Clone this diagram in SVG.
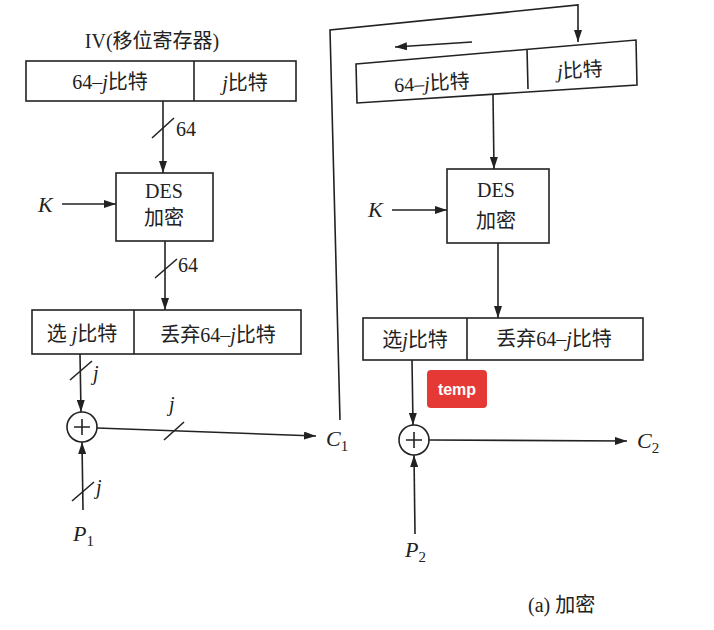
<svg xmlns="http://www.w3.org/2000/svg" width="714" height="630" viewBox="0 0 714 630">
<defs>
<marker id="ah" viewBox="0 0 12 8" refX="12" refY="4" markerWidth="12" markerHeight="8" markerUnits="userSpaceOnUse" orient="auto"><path d="M0,0 L12,4 L0,8 Z" fill="#222"/></marker>
</defs>
<style>
.b{fill:#fff;stroke:#222;stroke-width:1.6}
.l{fill:none;stroke:#222;stroke-width:1.6}
.a{fill:none;stroke:#222;stroke-width:1.6;marker-end:url(#ah)}
.t{font-family:"Liberation Serif","Noto Sans CJK SC",serif;font-size:20px;fill:#222}
.c{text-anchor:middle}
.i{font-style:italic}
.s{font-size:15px;font-style:normal}
.big{font-size:22px}
</style>
<rect width="714" height="630" fill="#fff"/>
<text class="t c" x="152" y="48">IV(移位寄存器)</text>
<g id="reg1">
<rect class="b" x="26" y="61" width="270" height="40"/>
<line class="l" x1="194" y1="61" x2="194" y2="101"/>
<text class="t c" x="110" y="89">64–<tspan class="i">j</tspan>比特</text>
<text class="t c" x="245" y="90"><tspan class="i">j</tspan>比特</text>
</g>
<g id="des1">
<rect class="b" x="116" y="173" width="97" height="68"/>
<text class="t c" x="164" y="198">DES</text>
<text class="t c" x="164" y="225">加密</text>
</g>
<g id="sel1">
<rect class="b" x="32" y="310" width="269" height="44"/>
<line class="l" x1="134" y1="310" x2="134" y2="354"/>
<text class="t c" x="82" y="341">选 <tspan class="i">j</tspan>比特</text>
<text class="t c" x="218" y="342">丢弃64–<tspan class="i">j</tspan>比特</text>
</g>
<g id="xor1">
<circle class="b" cx="82" cy="427" r="15"/>
<path class="l" d="M74,427 H90 M82,419 V435"/>
</g>
<g id="reg2">
<polygon class="b" points="356,64 636,40 637,85 357,103"/>
<line class="l" x1="527" y1="49" x2="528" y2="89"/>
<text class="t c" x="432" y="90" transform="rotate(-3 432 84)">64–<tspan class="i">j</tspan>比特</text>
<text class="t c" x="580" y="77" transform="rotate(-3 580 71)"><tspan class="i">j</tspan>比特</text>
</g>
<g id="des2">
<rect class="b" x="447" y="169" width="102" height="74"/>
<text class="t c" x="496" y="197">DES</text>
<text class="t c" x="496" y="228">加密</text>
</g>
<g id="sel2">
<rect class="b" x="363" y="318" width="280" height="42"/>
<line class="l" x1="467" y1="318" x2="467" y2="360"/>
<text class="t c" x="415" y="347">选<tspan class="i">j</tspan>比特</text>
<text class="t c" x="554" y="346">丢弃64–<tspan class="i">j</tspan>比特</text>
</g>
<g id="xor2">
<circle class="b" cx="414" cy="440" r="15"/>
<path class="l" d="M406,440 H422 M414,432 V448"/>
</g>
<g id="labels">
<text class="t i big" x="38" y="212">K</text>
<text class="t i big" x="368" y="217">K</text>
<text class="t i big" x="326" y="446">C<tspan class="s" dy="5">1</tspan></text>
<text class="t i big" x="637" y="448">C<tspan class="s" dy="5">2</tspan></text>
<text class="t i big" x="73" y="541">P<tspan class="s" dy="5">1</tspan></text>
<text class="t i big" x="405" y="557">P<tspan class="s" dy="5">2</tspan></text>
<text class="t" x="176" y="136">64</text>
<text class="t" x="178" y="272">64</text>
<text class="t i" x="93" y="380">j</text>
<text class="t i" x="169" y="411">j</text>
<text class="t i" x="96" y="494">j</text>
<text class="t" x="528" y="612">(a) 加密</text>
</g>
<g id="connectors">
<line class="a" x1="163" y1="101" x2="163" y2="173"/>
<line class="l" x1="152" y1="138" x2="174" y2="118"/>
<line class="a" x1="62" y1="204" x2="116" y2="204"/>
<line class="a" x1="165" y1="241" x2="165" y2="310"/>
<line class="l" x1="155" y1="278" x2="177" y2="259"/>
<line class="a" x1="80" y1="354" x2="81" y2="412"/>
<line class="l" x1="70" y1="380" x2="92" y2="361"/>
<line class="a" x1="97" y1="428" x2="316" y2="436"/>
<line class="l" x1="164" y1="440" x2="184" y2="422"/>
<line class="a" x1="83" y1="510" x2="82" y2="442"/>
<line class="l" x1="72" y1="501" x2="94" y2="482"/>
<polyline class="a" points="340,420 330,30 578,5 578,42"/>
<line class="a" x1="472" y1="42" x2="395" y2="47"/>
<line class="a" x1="493" y1="95" x2="494" y2="169"/>
<line class="a" x1="392" y1="210" x2="447" y2="210"/>
<line class="a" x1="498" y1="243" x2="498" y2="318"/>
<line class="a" x1="412" y1="360" x2="413" y2="425"/>
<line class="a" x1="429" y1="440" x2="627" y2="441"/>
<line class="a" x1="415" y1="534" x2="414" y2="455"/>
</g>
<g id="badge">
<rect x="427" y="370" width="60" height="38" rx="4" fill="#e53935"/>
<text x="457" y="395" text-anchor="middle" font-family="Liberation Sans, sans-serif" font-weight="bold" font-size="16" fill="#fff">temp</text>
</g>
</svg>
